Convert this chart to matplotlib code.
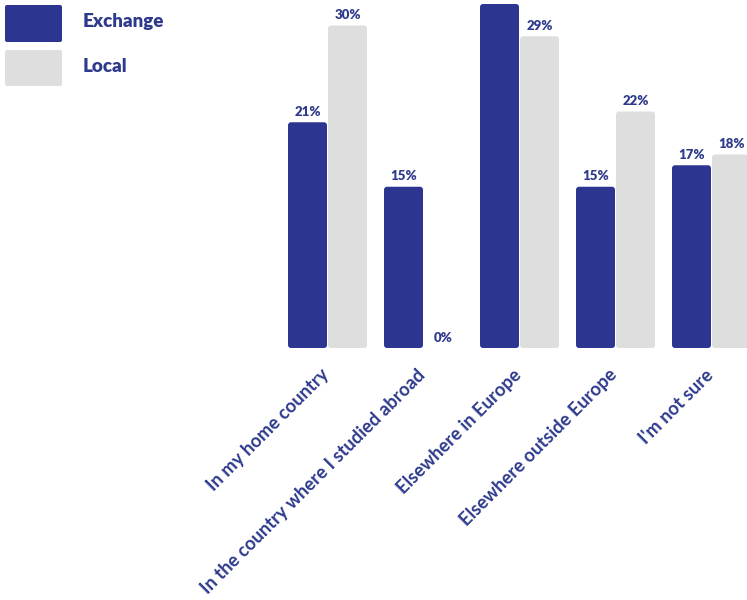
import matplotlib
matplotlib.use("Agg")
import matplotlib.pyplot as plt
from matplotlib.patches import FancyBboxPatch
from matplotlib.transforms import ScaledTranslation
import numpy as np

categories = ["In my home country", "In the country where I studied abroad",
              "Elsewhere in Europe", "Elsewhere outside Europe", "I'm not sure"]
exchange = [21, 15, 32, 15, 17]
local = [30, 0, 29, 22, 18]
series_names = ["Exchange", "Local"]

C_EX = "#2c3590"
C_LO = "#dedede"
C_TXT = "#2e3a8c"
FONT = ["Lato", "DejaVu Sans"]

W, H = 747, 600
fig = plt.figure(figsize=(W / 100, H / 100), dpi=100)

base_px = 348
px_per_unit_y = 10.75
px_per_unit_x = 96
c0 = 327.5
ax = fig.add_axes([0, (H - base_px) / H, 1, base_px / H])
ax.set_xlim(-c0 / px_per_unit_x, (W - c0) / px_per_unit_x)
ytop = base_px / px_per_unit_y
ax.set_ylim(0, ytop)
for s in ax.spines.values():
    s.set_visible(False)
ax.tick_params(axis="both", length=0)
ax.set_yticks([])

x = np.arange(len(categories))
off = 20 / px_per_unit_x
bw = 39 / px_per_unit_x

def rbar(xc, h, color):
    if h <= 0:
        return
    r = 3
    p = FancyBboxPatch((xc - bw / 2, 0), bw, h,
                       boxstyle=f"round,pad=0,rounding_size={r/px_per_unit_x}",
                       mutation_aspect=px_per_unit_x / px_per_unit_y,
                       facecolor=color, edgecolor="none", clip_on=True)
    ax.add_patch(p)

for i in range(len(categories)):
    rbar(x[i] - off, exchange[i], C_EX)
    rbar(x[i] + off, local[i], C_LO)

lab_off = 4.5 / px_per_unit_y
for vals, sgn in ((exchange, -1), (local, 1)):
    for i, v in enumerate(vals):
        if v + lab_off + 1.2 > ytop:
            continue
        ax.text(x[i] + sgn * off, v + lab_off, f"{v}%", ha="center", va="bottom",
                fontsize=9.5, fontweight="heavy", color=C_TXT, family=FONT)

ax.set_xticks(x)
ax.set_xticklabels(categories, rotation=45, ha="right", va="top",
                   rotation_mode="anchor", fontsize=13.2, fontweight="bold",
                   color=C_TXT, family=FONT)
ax.tick_params(axis="x", pad=13)
shift = ScaledTranslation(-7 / 100, 0, fig.dpi_scale_trans)
for lbl in ax.get_xticklabels():
    lbl.set_transform(lbl.get_transform() + shift)

# legend
for j, (name, col) in enumerate(zip(series_names, [C_EX, C_LO])):
    y0 = [5, 50][j]
    h = 37 if j == 0 else 36
    p = FancyBboxPatch((5 / W, 1 - (y0 + h) / H), 57 / W, h / H,
                       boxstyle=f"round,pad=0,rounding_size={2/W}",
                       mutation_aspect=W / H,
                       transform=fig.transFigure, facecolor=col, edgecolor="none")
    fig.patches.append(p)
    fig.text(83 / W, 1 - [22, 67][j] / H, name, ha="left", va="center",
             fontsize=13.5, fontweight="heavy", color=C_TXT, family=FONT)

fig.savefig("out.png", dpi=100)
